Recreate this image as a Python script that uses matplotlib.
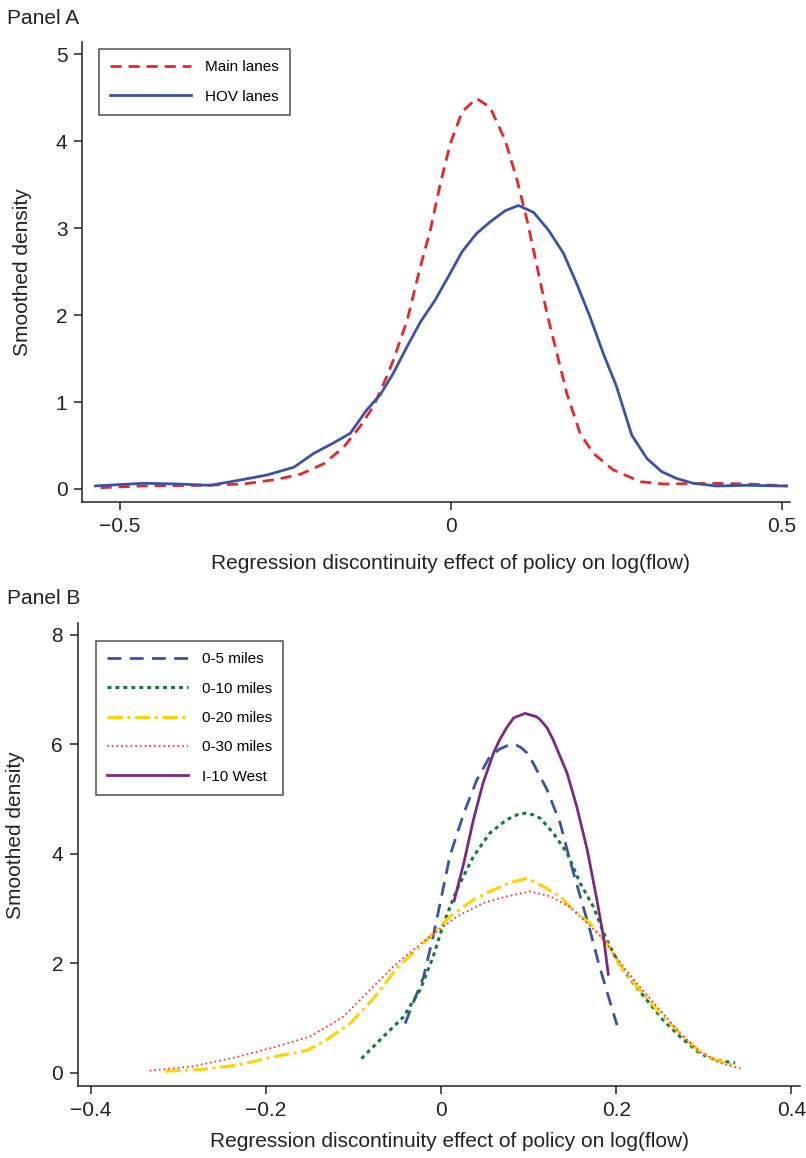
"""
RD effect densities, two stacked panels
"""
import matplotlib
matplotlib.use('Agg')
import matplotlib.pyplot as plt
import numpy as np

plt.rcParams['font.family'] = ['Liberation Sans', 'DejaVu Sans']

# ---- Panel A data: main lanes vs HOV lanes ----
main_x = [-0.529, -0.464, -0.373, -0.313, -0.263, -0.227, -0.192, -0.162, -0.137, -0.117,
          -0.097, -0.087, -0.066, -0.046, -0.031, -0.016, -0.001, 0.017, 0.039, 0.059,
          0.082, 0.100, 0.115, 0.130, 0.145, 0.160, 0.175, 0.195, 0.215, 0.245, 0.286,
          0.321, 0.396, 0.447, 0.507]
main_y = [0.015, 0.035, 0.042, 0.057, 0.11, 0.17, 0.29, 0.48, 0.72, 0.95,
          1.29, 1.48, 1.94, 2.56, 2.98, 3.51, 3.97, 4.34, 4.49, 4.39,
          4.01, 3.55, 3.09, 2.56, 2.02, 1.56, 1.10, 0.64, 0.41, 0.22, 0.084,
          0.057, 0.065, 0.057, 0.035]

hov_x = [-0.537, -0.464, -0.413, -0.363, -0.313, -0.278, -0.237, -0.207, -0.177, -0.152,
         -0.127, -0.107, -0.087, -0.066, -0.046, -0.024, -0.004, 0.017, 0.039, 0.059,
         0.082, 0.102, 0.125, 0.147, 0.170, 0.190, 0.210, 0.230, 0.250, 0.273, 0.296,
         0.318, 0.341, 0.366, 0.401, 0.447, 0.507]
hov_y = [0.035, 0.065, 0.057, 0.042, 0.11, 0.16, 0.25, 0.41, 0.53, 0.64,
         0.91, 1.08, 1.33, 1.64, 1.92, 2.17, 2.44, 2.73, 2.94, 3.07,
         3.20, 3.26, 3.18, 2.98, 2.71, 2.36, 1.98, 1.56, 1.18, 0.62, 0.35,
         0.20, 0.12, 0.065, 0.034, 0.042, 0.034]

# ---- Panel B data: distance bands and I-10 West ----
m5_x = [-0.041, -0.032, -0.020, -0.009, -0.001, 0.010, 0.026, 0.041, 0.056, 0.067,
        0.077, 0.085, 0.092, 0.098, 0.105, 0.121, 0.136, 0.147, 0.159, 0.170,
        0.180, 0.189, 0.201]
m5_y = [0.90, 1.27, 1.75, 2.49, 3.10, 3.95, 4.74, 5.35, 5.78, 5.91,
        5.98, 5.99, 5.93, 5.84, 5.66, 5.17, 4.56, 3.89, 3.22, 2.61,
        2.00, 1.51, 0.87]

m10_x = [-0.091, -0.066, -0.043, -0.024, -0.009, 0.003, 0.018, 0.037, 0.056, 0.075,
         0.087, 0.096, 0.105, 0.113, 0.128, 0.144, 0.159, 0.174, 0.189, 0.205,
         0.220, 0.235, 0.254, 0.273, 0.296, 0.315, 0.336]
m10_y = [0.26, 0.66, 1.02, 1.51, 2.12, 2.73, 3.34, 3.95, 4.38, 4.62,
         4.71, 4.74, 4.71, 4.65, 4.38, 4.01, 3.46, 3.03, 2.43, 1.94,
         1.63, 1.33, 0.96, 0.66, 0.35, 0.23, 0.18]

m20_x = [-0.315, -0.275, -0.233, -0.192, -0.153, -0.131, -0.104, -0.077, -0.051, -0.016,
         0.010, 0.037, 0.060, 0.079, 0.098, 0.117, 0.136, 0.151, 0.170, 0.189,
         0.208, 0.227, 0.250, 0.273, 0.296, 0.315, 0.338]
m20_y = [0.03, 0.06, 0.14, 0.29, 0.41, 0.60, 0.90, 1.36, 1.90, 2.43,
         2.85, 3.16, 3.34, 3.47, 3.55, 3.40, 3.22, 2.97, 2.73, 2.37,
         1.88, 1.51, 1.09, 0.72, 0.38, 0.23, 0.12]

m30_x = [-0.333, -0.283, -0.233, -0.188, -0.150, -0.112, -0.085, -0.054, -0.016, 0.018,
         0.048, 0.075, 0.102, 0.125, 0.147, 0.167, 0.186, 0.208, 0.227, 0.250,
         0.273, 0.296, 0.319, 0.342]
m30_y = [0.04, 0.12, 0.29, 0.48, 0.66, 1.02, 1.45, 1.95, 2.45, 2.85,
         3.10, 3.22, 3.31, 3.22, 3.03, 2.73, 2.43, 1.94, 1.57, 1.15,
         0.72, 0.38, 0.18, 0.08]

i10_x = [0.015, 0.026, 0.037, 0.048, 0.060, 0.067, 0.075, 0.083, 0.096, 0.109,
         0.113, 0.121, 0.128, 0.144, 0.155, 0.167, 0.178, 0.186, 0.191]
i10_y = [3.14, 3.83, 4.62, 5.29, 5.84, 6.08, 6.30, 6.48, 6.56, 6.50,
         6.45, 6.30, 6.08, 5.47, 4.86, 4.07, 3.16, 2.43, 1.80]

W, H = 806, 1158
fig = plt.figure(figsize=(W / 100, H / 100), dpi=100)


def px_axes(left, top, right, bottom):
    """add axes from pixel box"""
    return fig.add_axes([left / W, 1 - bottom / H, (right - left) / W, (bottom - top) / H])


def style_axes(ax, ypad, xpad):
    for side in ['top', 'right']:
        ax.spines[side].set_visible(False)
    for side in ['left', 'bottom']:
        ax.spines[side].set_linewidth(1.1)
        ax.spines[side].set_color('#222222')
    ax.tick_params(direction='out', length=6, width=1.1, color='#222222',
                   labelsize=15, labelcolor='#222222', pad=4.5)
    ax.set_ylabel('Smoothed density', fontsize=15, color='#222222', labelpad=ypad)
    ax.set_xlabel('Regression discontinuity effect of policy on log(flow)',
                  fontsize=15, color='#222222', labelpad=xpad)


legend_kw = dict(loc='upper left', frameon=True, fancybox=False, fontsize=11,
                 handlelength=5.3, handletextpad=0.9, labelspacing=1.0,
                 borderpad=0.75, borderaxespad=0)

# Panel A
axA = px_axes(82, 42, 790, 502)
axA.plot(main_x, main_y, color='#e8262b', lw=2.0, ls=(0, (4, 2.5)), label='Main lanes')
axA.plot(hov_x, hov_y, color='#3a53a4', lw=2.0, ls='-', label='HOV lanes')
axA.set_xlim(-0.557, 0.512)
axA.set_ylim(-0.15, 5.14)
axA.set_xticks([-0.5, 0, 0.5])
axA.set_xticklabels(['\u22120.5', '0', '0.5'])
axA.set_yticks(range(0, 6))
style_axes(axA, 17, 13)
axA.xaxis.label.set_x(0.52)
legA = axA.legend(bbox_to_anchor=(99 / W, 1 - 49 / H), bbox_transform=fig.transFigure,
                  **legend_kw)
legA.get_frame().set_edgecolor('#222222')
legA.get_frame().set_linewidth(1.1)
fig.text(7 / W, 1 - 18 / H, 'Panel A', fontsize=15, color='#222222', va='center', ha='left')

# Panel B
axB = px_axes(77.7, 623, 800, 1086)
axB.plot(m5_x, m5_y, color='#3a53a4', lw=2.0, ls=(0, (5, 3)), label='0-5 miles')
axB.plot(m10_x, m10_y, color='#177a3c', lw=2.2, ls=(0, (1.3, 1.3)), label='0-10 miles')
axB.plot(m20_x, m20_y, color='#ffd200', lw=2.2, ls=(0, (5, 1.5, 1, 1.5)), label='0-20 miles')
axB.plot(m30_x, m30_y, color='#ff3b3b', lw=1.3, ls=(0, (1, 1.6)), label='0-30 miles')
axB.plot(i10_x, i10_y, color='#7b2a82', lw=2.0, ls='-', label='I-10 West')
axB.set_xlim(-0.415, 0.41)
axB.set_ylim(-0.24, 8.21)
axB.set_xticks([-0.4, -0.2, 0, 0.2, 0.4])
axB.set_xticklabels(['\u22120.4', '\u22120.2', '0', '0.2', '0.4'])
axB.set_yticks([0, 2, 4, 6, 8])
style_axes(axB, 19, 9)
axB.xaxis.label.set_x(0.515)
axB.yaxis.label.set_y(0.542)
legB = axB.legend(bbox_to_anchor=(95.7 / W, 1 - 641 / H), bbox_transform=fig.transFigure,
                  **legend_kw)
legB.get_frame().set_edgecolor('#222222')
legB.get_frame().set_linewidth(1.1)
fig.text(7 / W, 1 - 598 / H, 'Panel B', fontsize=15, color='#222222', va='center', ha='left')

fig.savefig('out.png', dpi=100, facecolor='white')
